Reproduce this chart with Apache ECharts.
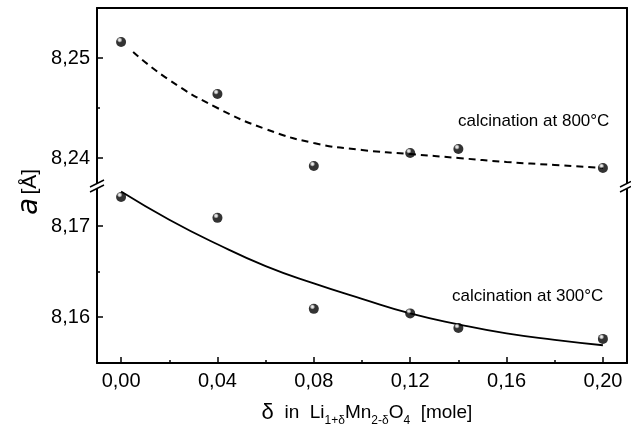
<!DOCTYPE html>
<html>
<head>
<meta charset="utf-8">
<script src="https://cdn.jsdelivr.net/npm/echarts@6/dist/echarts.min.js"></script>
<style>html,body{margin:0;padding:0;background:#fff}#c{width:631px;height:435px}</style>
</head>
<body>
<div id="c"></div>
<script>
// ---- data ----
const delta = [0.00, 0.04, 0.08, 0.12, 0.14, 0.20];
const a800 = [8.2516, 8.2464, 8.2392, 8.2405, 8.2409, 8.2390];
const a300 = [8.1732, 8.1709, 8.1609, 8.1604, 8.1588, 8.1576];
const fit800X = [0.005, 0.02, 0.04, 0.06, 0.08, 0.10, 0.12, 0.14, 0.16, 0.18, 0.20];
const fit800Y = [8.2506, 8.2478, 8.2450, 8.2429, 8.2415, 8.2408, 8.2404, 8.2400, 8.2396, 8.2393, 8.2390];
const fit300X = [0.00, 0.02, 0.04, 0.06, 0.08, 0.10, 0.12, 0.14, 0.16, 0.18, 0.20];
const fit300Y = [8.1738, 8.1707, 8.1680, 8.1656, 8.1637, 8.1620, 8.1604, 8.1592, 8.1582, 8.1575, 8.1569];
const xTicks = [0.00, 0.04, 0.08, 0.12, 0.16, 0.20];
const xMinor = [0.02, 0.06, 0.10, 0.14, 0.18];
const upTicks = [8.24, 8.25];
const upMinor = [8.245];
const loTicks = [8.16, 8.17];
const loMinor = [8.165];
const label800 = 'calcination at 800°C';
const label300 = 'calcination at 300°C';

const FONT = 'Liberation Sans, Arial, sans-serif';
const fmt = v => Number(v).toFixed(2).replace('.', ',');
const pairs = (xs, ys) => xs.map((x, i) => [x, ys[i]]);

const ball = {
  type: 'radial', x: 0.36, y: 0.3, r: 0.75,
  colorStops: [{offset: 0, color: '#ffffff'}, {offset: 0.18, color: '#bbbbbb'}, {offset: 0.36, color: '#000'}, {offset: 1, color: '#000'}]
};

const lineStyleAxis = {color: '#000', width: 2};
function hiddenAxisBits() {
  return {axisLabel: {show: false}, axisTick: {show: false}, splitLine: {show: false}};
}

const chart = echarts.init(document.getElementById('c'), null, {renderer: 'canvas'});
chart.setOption({
  animation: false,
  backgroundColor: '#fff',
  grid: [
    {left: 97, right: 4, top: 8, height: 178},
    {left: 97, right: 4, top: 187, bottom: 72}
  ],
  xAxis: [
    Object.assign({gridIndex: 0, type: 'value', min: -0.01, max: 0.21, position: 'top',
      axisLine: {show: true, onZero: false, lineStyle: lineStyleAxis}}, hiddenAxisBits()),
    {gridIndex: 1, type: 'value', min: -0.01, max: 0.21, position: 'bottom',
      axisLine: {show: true, onZero: false, lineStyle: lineStyleAxis},
      axisTick: {show: true, inside: true, length: 6, customValues: xTicks, lineStyle: {color: '#000', width: 1.5}},
      axisLabel: {show: true, customValues: xTicks, formatter: fmt, fontFamily: FONT, fontSize: 20, color: '#000', margin: 8},
      splitLine: {show: false},
      name: '{g|δ}  in  Li{s|1+δ}Mn{s|2-δ}O{s|4}  [mole]',
      nameLocation: 'middle', nameGap: 36,
      nameTextStyle: {
        fontFamily: FONT, fontSize: 19, color: '#000', lineHeight: 28, padding: [0, 0, 0, 10],
        rich: {
          g: {fontFamily: FONT, fontSize: 22, color: '#000', lineHeight: 28},
          s: {fontFamily: FONT, fontSize: 12, color: '#000', lineHeight: 11, verticalAlign: 'bottom'}
        }
      }
    },
    {gridIndex: 1, type: 'value', min: -0.01, max: 0.21, position: 'bottom',
      axisLine: {show: false, onZero: false},
      axisTick: {show: true, inside: true, length: 3, customValues: xMinor, lineStyle: {color: '#000', width: 1.5}},
      axisLabel: {show: false}, splitLine: {show: false}}
  ],
  yAxis: [
    {gridIndex: 0, type: 'value', min: 8.2372, max: 8.255, position: 'left',
      axisLine: {show: true, onZero: false, lineStyle: lineStyleAxis},
      axisTick: {show: true, inside: true, length: 6, customValues: upTicks, lineStyle: {color: '#000', width: 1.5}},
      axisLabel: {show: true, customValues: upTicks, formatter: fmt, fontFamily: FONT, fontSize: 20, color: '#000', margin: 7},
      splitLine: {show: false}},
    {gridIndex: 0, type: 'value', min: 8.2372, max: 8.255, position: 'left',
      axisLine: {show: false, onZero: false},
      axisTick: {show: true, inside: true, length: 3, customValues: upMinor, lineStyle: {color: '#000', width: 1.5}},
      axisLabel: {show: false}, splitLine: {show: false}},
    Object.assign({gridIndex: 0, type: 'value', min: 8.2372, max: 8.255, position: 'right',
      axisLine: {show: true, onZero: false, lineStyle: lineStyleAxis}}, hiddenAxisBits()),
    {gridIndex: 1, type: 'value', min: 8.15495, max: 8.17429, position: 'left',
      axisLine: {show: true, onZero: false, lineStyle: lineStyleAxis},
      axisTick: {show: true, inside: true, length: 6, customValues: loTicks, lineStyle: {color: '#000', width: 1.5}},
      axisLabel: {show: true, customValues: loTicks, formatter: fmt, fontFamily: FONT, fontSize: 20, color: '#000', margin: 7},
      splitLine: {show: false}},
    {gridIndex: 1, type: 'value', min: 8.15495, max: 8.17429, position: 'left',
      axisLine: {show: false, onZero: false},
      axisTick: {show: true, inside: true, length: 3, customValues: loMinor, lineStyle: {color: '#000', width: 1.5}},
      axisLabel: {show: false}, splitLine: {show: false}},
    Object.assign({gridIndex: 1, type: 'value', min: 8.15495, max: 8.17429, position: 'right',
      axisLine: {show: true, onZero: false, lineStyle: lineStyleAxis}}, hiddenAxisBits())
  ],
  series: [
    {type: 'line', xAxisIndex: 0, yAxisIndex: 0, data: pairs(fit800X, fit800Y), smooth: true, showSymbol: false,
      lineStyle: {color: '#000', width: 2, type: [7, 5]}, z: 2},
    {type: 'line', xAxisIndex: 1, yAxisIndex: 3, data: pairs(fit300X, fit300Y), smooth: true, showSymbol: false,
      lineStyle: {color: '#000', width: 1.8}, z: 2},
    {type: 'scatter', xAxisIndex: 0, yAxisIndex: 0, data: pairs(delta, a800), symbol: 'circle', symbolSize: 10,
      itemStyle: {color: ball}, z: 3},
    {type: 'scatter', xAxisIndex: 1, yAxisIndex: 3, data: pairs(delta, a300), symbol: 'circle', symbolSize: 10,
      itemStyle: {color: ball}, z: 3}
  ],
  graphic: [
    // axis break marks (left)
    {type: 'rect', shape: {x: 94, y: 184, width: 6, height: 5}, style: {fill: '#fff'}, z: 100},
    {type: 'line', shape: {x1: 90, y1: 187, x2: 104, y2: 180}, style: {stroke: '#000', lineWidth: 1.5}, z: 101},
    {type: 'line', shape: {x1: 90, y1: 192, x2: 104, y2: 185}, style: {stroke: '#000', lineWidth: 1.5}, z: 101},
    // axis break marks (right)
    {type: 'rect', shape: {x: 624, y: 184, width: 6, height: 5}, style: {fill: '#fff'}, z: 100},
    {type: 'line', shape: {x1: 620, y1: 187, x2: 631, y2: 181.5}, style: {stroke: '#000', lineWidth: 1.5}, z: 101},
    {type: 'line', shape: {x1: 620, y1: 192, x2: 631, y2: 186.5}, style: {stroke: '#000', lineWidth: 1.5}, z: 101},
    // annotations
    {type: 'text', left: 458, top: 113, style: {text: label800, fontFamily: FONT, fontSize: 17, fill: '#000'}, z: 50},
    {type: 'text', left: 452, top: 288, style: {text: label300, fontFamily: FONT, fontSize: 17, fill: '#000'}, z: 50},
    // y axis title
    {type: 'text', x: 30, y: 192, rotation: Math.PI / 2,
      style: {
        text: '{a|a} {b|[Å]}', align: 'center', verticalAlign: 'middle',
        rich: {
          a: {fontFamily: 'DejaVu Sans, sans-serif', fontStyle: 'italic', fontSize: 28, fill: '#000'},
          b: {fontFamily: FONT, fontSize: 21, fill: '#000'}
        }
      }, z: 50}
  ]
});
</script>
</body>
</html>
